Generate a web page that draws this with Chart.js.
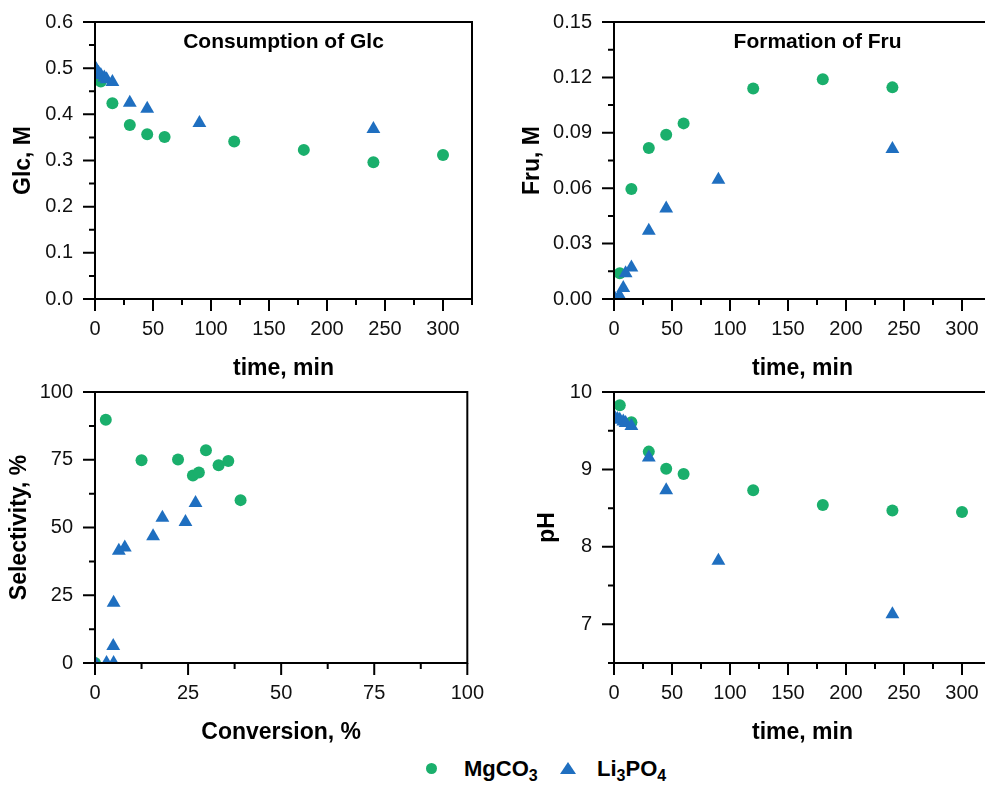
<!DOCTYPE html>
<html>
<head>
<meta charset="utf-8">
<script src="https://cdn.jsdelivr.net/npm/chart.js@4.4.1/dist/chart.umd.min.js"></script>
<style>
  body { margin: 0; width: 985px; height: 785px; overflow: hidden; background: #fff; position: relative;
         font-family: 'Liberation Sans', Arial, sans-serif; }
  canvas { position: absolute; }
  .leg { position: absolute; font-weight: bold; font-size: 22px; line-height: 22px; color: #000; }
  .leg sub { font-size: 16px; line-height: 0; }
  #dot { position: absolute; left: 426px; top: 763px; width: 11px; height: 11px; border-radius: 50%; background: #1aaf6c; }
  #tri { position: absolute; left: 560px; top: 762px; width: 0; height: 0;
         border-left: 8px solid transparent; border-right: 8px solid transparent; border-bottom: 12px solid #1f6fc0; }
</style>
</head>
<body>
<canvas id="glcChart" width="490" height="385" style="left:0;top:0"></canvas>
<canvas id="fruChart" width="490" height="385" style="left:519px;top:0"></canvas>
<canvas id="selChart" width="490" height="379" style="left:0;top:370px"></canvas>
<canvas id="phChart" width="490" height="379" style="left:519px;top:370px"></canvas>
<div id="dot"></div>
<div class="leg" style="left:464px;top:758px">MgCO<sub>3</sub></div>
<div id="tri"></div>
<div class="leg" style="left:597px;top:758px">Li<sub>3</sub>PO<sub>4</sub></div>
<script>
// MgCO3 (green circles) and Li3PO4 (blue triangles)
const mgTime = [5, 15, 30, 45, 60, 120, 180, 240, 300];
const mgGlc = [0.471, 0.424, 0.377, 0.357, 0.351, 0.341, 0.323, 0.296, 0.312];
const mgTimeFru = [5, 15, 30, 45, 60, 120, 180, 240];
const mgFru = [0.0139, 0.0596, 0.0818, 0.089, 0.0951, 0.114, 0.119, 0.1146];
const mgPh = [9.83, 9.61, 9.23, 9.01, 8.94, 8.73, 8.54, 8.47, 8.45];
const mgConv = [0, 2.9, 12.5, 22.3, 26.3, 27.9, 29.8, 33.2, 35.8, 39.1];
const mgSel = [0, 89.8, 74.8, 75.1, 69.2, 70.3, 78.5, 73.0, 74.5, 60.1];

const liTime = [0, 1, 3, 5, 8, 10, 15, 30, 45, 90, 240];
const liGlc = [0.502, 0.496, 0.490, 0.485, 0.480, 0.476, 0.470, 0.425, 0.412, 0.381, 0.368];
const liFru = [0, 0, 0, 0.0015, 0.006, 0.014, 0.017, 0.037, 0.049, 0.0646, 0.0812];
const liPh = [9.67, 9.66, 9.65, 9.64, 9.62, 9.60, 9.56, 9.155, 8.73, 7.82, 7.13];
const liConv = [0, 3.1, 5.0, 4.9, 5.0, 6.4, 8.0, 15.6, 18.1, 24.3, 27.0];
const liSel = [0, 0, 0, 6.3, 22.2, 41.4, 42.6, 46.8, 53.6, 52.0, 59.0];

const green = '#1aaf6c';
const blue = '#1f6fc0';

Chart.defaults.font.family = "'Liberation Sans', Arial, sans-serif";
Chart.defaults.color = '#111';

function range(min, max, step) {
  const out = [];
  for (let i = 0; min + i * step <= max + 1e-9; i++) out.push(+(min + i * step).toFixed(6));
  return out;
}
function isMajor(v, step) {
  return Math.abs(v / step - Math.round(v / step)) < 1e-6;
}
function pts(xs, ys) {
  return xs.map((x, i) => ({ x: x, y: ys[i] }));
}

// box round the plot, outward major/minor ticks, title inside the plot
const axisFrame = {
  id: 'axisFrame',
  afterDraw(chart, args, opts) {
    const { ctx, chartArea: a } = chart;
    const xs = chart.scales.x, ys = chart.scales.y;
    ctx.save();
    ctx.strokeStyle = '#000';
    ctx.lineWidth = 2;
    ctx.strokeRect(a.left, a.top, a.right - a.left, a.bottom - a.top);
    ctx.beginPath();
    xs.ticks.forEach(t => {
      const p = xs.getPixelForValue(t.value);
      ctx.moveTo(p, a.bottom);
      ctx.lineTo(p, a.bottom + (isMajor(t.value, opts.xMajor) ? 12 : 6));
    });
    ys.ticks.forEach(t => {
      const p = ys.getPixelForValue(t.value);
      ctx.moveTo(a.left, p);
      ctx.lineTo(a.left - (isMajor(t.value, opts.yMajor) ? 12 : 6), p);
    });
    ctx.stroke();
    if (opts.text) {
      ctx.font = "bold 21px 'Liberation Sans', Arial, sans-serif";
      ctx.fillStyle = '#000';
      ctx.textAlign = 'center';
      ctx.textBaseline = 'middle';
      ctx.fillText(opts.text, a.left + (a.right - a.left) * opts.textPos, a.top + 20);
    }
    ctx.restore();
  }
};

function makeAxis(ax, isX) {
  return {
    type: 'linear',
    min: ax.min,
    max: ax.max,
    afterBuildTicks: s => { s.ticks = range(ax.min, ax.max, ax.minor).map(v => ({ value: v })); },
    afterFit: s => { if (isX) s.height = 86; else s.width = 95; },
    grid: { drawOnChartArea: false, tickLength: 12, tickColor: 'rgba(0,0,0,0)' },
    border: { display: false },
    ticks: {
      autoSkip: false, maxRotation: 0, padding: isX ? 6 : 10,
      font: { size: 20 }, color: '#111',
      callback: v => isMajor(v, ax.major) ? ax.fmt(v) : ''
    },
    title: {
      display: true, text: ax.title, color: '#000',
      font: { size: 23, weight: 'bold' },
      padding: isX ? { top: 0, bottom: 3 } : { top: ax.titlePad, bottom: 0 }
    }
  };
}

function makeChart(id, p) {
  new Chart(document.getElementById(id), {
    type: 'scatter',
    data: {
      datasets: [
        { label: 'MgCO3', data: p.green, pointStyle: 'circle', pointRadius: 6, pointHoverRadius: 6,
          backgroundColor: green, borderWidth: 0, order: 1 },
        { label: 'Li3PO4', data: p.blue, pointStyle: 'triangle', pointRadius: 8, pointHoverRadius: 8,
          backgroundColor: blue, borderWidth: 0, order: 0 }
      ]
    },
    options: {
      responsive: false,
      animation: false,
      layout: { padding: { top: p.top, right: 18, left: 0, bottom: 0 } },
      scales: { x: makeAxis(p.x, true), y: makeAxis(p.y, false) },
      plugins: {
        legend: { display: false },
        tooltip: { enabled: false },
        axisFrame: { xMajor: p.x.major, yMajor: p.y.major, text: p.text, textPos: p.textPos }
      }
    },
    plugins: [axisFrame]
  });
}

const timeAxis = { min: 0, max: 325, minor: 25, major: 50, fmt: v => v, title: 'time, min' };

makeChart('glcChart', {
  top: 22, text: 'Consumption of Glc', textPos: 0.5,
  green: pts(mgTime, mgGlc), blue: pts(liTime, liGlc),
  x: timeAxis,
  y: { min: 0, max: 0.6, minor: 0.05, major: 0.1, fmt: v => v.toFixed(1), title: 'Glc, M', titlePad: 10 }
});

makeChart('fruChart', {
  top: 22, text: 'Formation of Fru', textPos: 0.54,
  green: pts(mgTimeFru, mgFru), blue: pts(liTime, liFru),
  x: timeAxis,
  y: { min: 0, max: 0.15, minor: 0.015, major: 0.03, fmt: v => v.toFixed(2), title: 'Fru, M', titlePad: 0 }
});

makeChart('selChart', {
  top: 15,
  green: pts(mgConv, mgSel), blue: pts(liConv, liSel),
  x: { min: 0, max: 100, minor: 12.5, major: 25, fmt: v => v, title: 'Conversion, %' },
  y: { min: 0, max: 100, minor: 12.5, major: 25, fmt: v => v, title: 'Selectivity, %', titlePad: 6 }
});

makeChart('phChart', {
  top: 15,
  green: pts(mgTime, mgPh), blue: pts(liTime, liPh),
  x: timeAxis,
  y: { min: 6.5, max: 10, minor: 0.5, major: 1, fmt: v => v, title: 'pH', titlePad: 15 }
});
</script>
</body>
</html>
